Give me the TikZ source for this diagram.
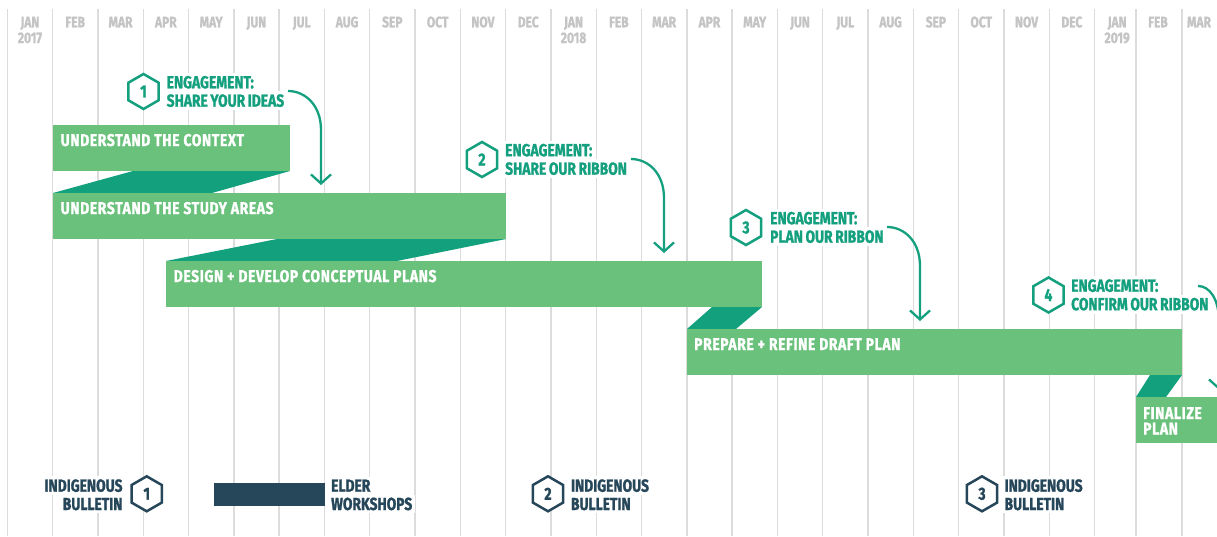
\documentclass[tikz,border=0pt]{standalone}
\usepackage{fontspec}
\newfontfamily\cf[FakeStretch=0.79, WordSpace=0.8, BoldFeatures={FakeBold=1.2}]{Fira Sans}
\newfontfamily\cfbar[FakeStretch=0.82, LetterSpace=3.5, BoldFeatures={FakeBold=1.2}]{Fira Sans}
\usetikzlibrary{shapes.geometric,arrows.meta}
\definecolor{gridc}{HTML}{DCDCDC}
\definecolor{monc}{HTML}{C4C4C4}
\definecolor{barc}{HTML}{6AC17B}
\definecolor{ribc}{HTML}{12A07D}
\definecolor{engc}{HTML}{14A07E}
\definecolor{navc}{HTML}{26465A}
\begin{document}
\begin{tikzpicture}[x=1pt,y=-1pt,
  gridline/.style={gridc, line width=1.4pt},
  monthlbl/.style={monc, font=\cf\bfseries\fontsize{15.2}{15.2}\selectfont, anchor=base, inner sep=0},
  bar/.style={fill=barc, draw=none, anchor=north west, inner sep=0, outer sep=0, minimum height=46pt},
  ribbon/.style={fill=ribc, draw=none},
  bartext/.style={white, font=\cfbar\bfseries\fontsize{17}{17}\selectfont, anchor=base west, inner sep=0},
  engtext/.style={engc, font=\cf\bfseries\fontsize{17.5}{17.5}\selectfont, anchor=base west, fill=white, inner xsep=3pt, inner ysep=3pt},
  navtext/.style={navc, font=\cf\bfseries\fontsize{17.5}{17.5}\selectfont, fill=white, inner xsep=3pt, inner ysep=3pt},
  hexe/.style={regular polygon, regular polygon sides=6, shape border rotate=30, minimum size=35pt, inner sep=0, line width=2.5pt, draw=engc, fill=white, text=engc, font=\cf\bfseries\fontsize{17.5}{17.5}\selectfont},
  hexn/.style={hexe, draw=navc, text=navc},
  engarrow/.style={engc, line width=2.3pt, -{Straight Barb[length=9pt,width=20pt]}}
]
\useasboundingbox (0,0) rectangle (1217,536);
\clip (0,0) rectangle (1217,536);
\fill[white] (0,0) rectangle (1217,536);

% grid
\foreach \gx in {7.3,52.6,97.9,143.2,188.5,233.8,279.1,324.4,369.7,415,460.3,505.6,550.9,596.2,641.5,686.8,732.1,777.4,822.7,868,913.3,958.6,1003.9,1049.2,1094.5,1136,1182}
  \draw[gridline] (\gx,9) -- (\gx,536);

% months
\foreach \m [count=\i from 0] in {JAN,FEB,MAR,APR,MAY,JUN,JUL,AUG,SEP,OCT,NOV,DEC,JAN,FEB,MAR,APR,MAY,JUN,JUL,AUG,SEP,OCT,NOV,DEC,JAN}
  \node[monthlbl] (m\i) at (29.95+45.3*\i,27.3) {\m};
\node[monthlbl] (m25) at (1158,27.3) {FEB};
\node[monthlbl] (m26) at (1199,27.3) {MAR};
\node[monthlbl] (y17) at (29.95,43) {2017};
\node[monthlbl] (y18) at (573.55,43) {2018};
\node[monthlbl] (y19) at (1117.15,43) {2019};

% ribbons
\fill[ribbon] (53,193) -- (133,171) -- (290,171) -- (212,193) -- cycle;
\fill[ribbon] (166,261) -- (277,239) -- (506,239) -- (397,261) -- cycle;
\fill[ribbon] (687,329) -- (712,307) -- (762,307) -- (736,329) -- cycle;
\fill[ribbon] (1136,397) -- (1150,375) -- (1182,375) -- (1166,397) -- cycle;

% bars
\node[bar, minimum width=237pt] (b1) at (53,125) {};
\node[bartext] (t1) at (60.5,146) {UNDERSTAND THE CONTEXT};
\node[bar, minimum width=453pt] (b2) at (53,193) {};
\node[bartext] (t2) at (60.5,214) {UNDERSTAND THE STUDY AREAS};
\node[bar, minimum width=596pt] (b3) at (166,261) {};
\node[bartext] (t3) at (173.5,282) {DESIGN + DEVELOP CONCEPTUAL PLANS};
\node[bar, minimum width=495pt] (b4) at (687,329) {};
\node[bartext] (t4) at (694,350) {PREPARE + REFINE DRAFT PLAN};
\node[bar, minimum width=100pt] (b5) at (1136,397) {};
\node[bartext] (t5a) at (1143,419) {FINALIZE};
\node[bartext] (t5b) at (1143,434.5) {PLAN};

% engagements
\node[hexe] (h1) at (143.5,91.5) {1};
\node[engtext] (e1a) at (163.5,88.3) {ENGAGEMENT:};
\node[engtext] (e1b) at (163.5,106.7) {SHARE YOUR IDEAS};
\node[hexe] (h2) at (482,159.5) {2};
\node[engtext] (e2a) at (502,156.2) {ENGAGEMENT:};
\node[engtext] (e2b) at (502,174.7) {SHARE OUR RIBBON};
\node[hexe] (h3) at (746,227.5) {3};
\node[engtext] (e3a) at (767,224.2) {ENGAGEMENT:};
\node[engtext] (e3b) at (767,242.7) {PLAN OUR RIBBON};
\node[hexe] (h4) at (1048.5,295) {4};
\node[engtext] (e4a) at (1068,291.7) {ENGAGEMENT:};
\node[engtext] (e4b) at (1068,310.2) {CONFIRM OUR RIBBON};

\coordinate (a1s) at (288,91);   \coordinate (a1t) at (321,185);
\coordinate (a2s) at (631,159);  \coordinate (a2t) at (664,253);
\coordinate (a3s) at (887,227);  \coordinate (a3t) at (920,321);
\coordinate (a4s) at (1198,286); \coordinate (a4t) at (1219,390);
\draw[engarrow] (a1s) .. controls (305,91) and (321,105) .. (321,130) -- (a1t);
\draw[engarrow] (a2s) .. controls (648,159) and (664,173) .. (664,198) -- (a2t);
\draw[engarrow] (a3s) .. controls (904,227) and (920,241) .. (920,266) -- (a3t);
\draw[engarrow] (a4s) .. controls (1209,286) and (1219,298) .. (1219,322) -- (a4t);

% bottom row
\node[hexn] (n1) at (146.7,493.8) {1};
\node[navtext, anchor=base east] (ib1a) at (125.7,491.7) {INDIGENOUS};
\node[navtext, anchor=base east] (ib1b) at (125.7,510) {BULLETIN};
\node[fill=navc, anchor=north west, inner sep=0, minimum width=111pt, minimum height=23.3pt] (ew) at (214,482.7) {};
\node[navtext, anchor=base west] (ewa) at (328,491.7) {ELDER};
\node[navtext, anchor=base west] (ewb) at (328,510) {WORKSHOPS};
\node[hexn] (n2) at (548,493.8) {2};
\node[navtext, anchor=base west] (ib2a) at (567.8,491.7) {INDIGENOUS};
\node[navtext, anchor=base west] (ib2b) at (567.8,510) {BULLETIN};
\node[hexn] (n3) at (982,493.8) {3};
\node[navtext, anchor=base west] (ib3a) at (1001.4,491.7) {INDIGENOUS};
\node[navtext, anchor=base west] (ib3b) at (1001.4,510) {BULLETIN};
\end{tikzpicture}
\end{document}
